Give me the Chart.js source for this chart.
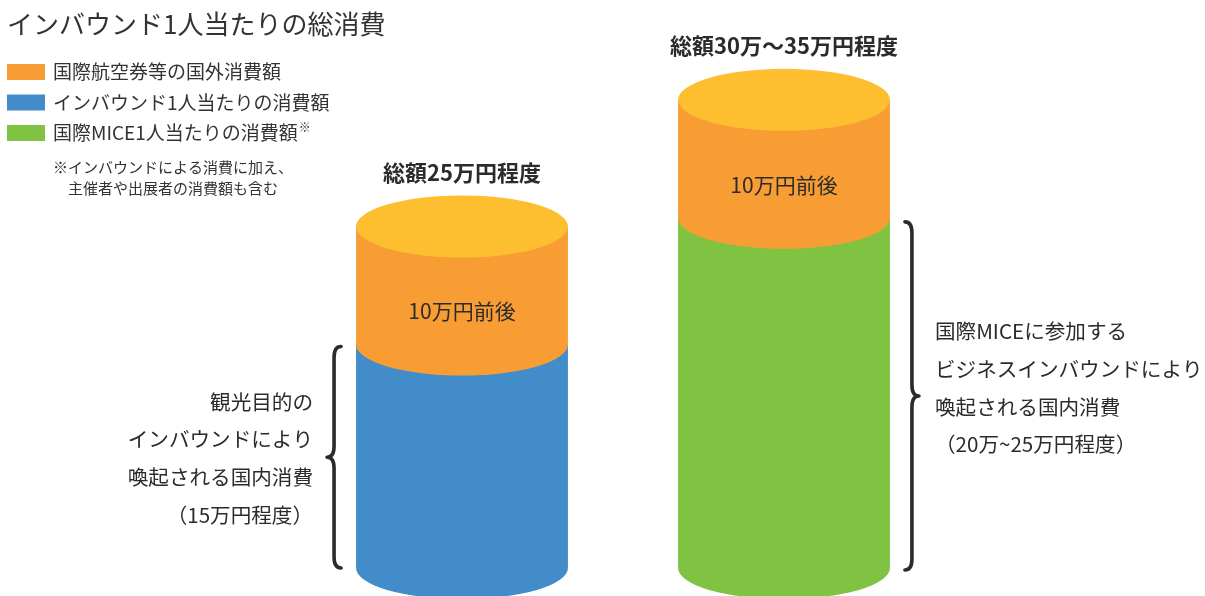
<!DOCTYPE html>
<html lang="ja">
<head>
<meta charset="utf-8">
<script src="https://cdn.jsdelivr.net/npm/chart.js@4"></script>
<style>
  html, body { margin: 0; padding: 0; background: #fff; }
  #wrap { width: 1205px; height: 596px; }
</style>
</head>
<body>
<div id="wrap"><canvas id="cylinders" width="1205" height="596"></canvas></div>
<script>
// 1人当たり消費（万円）
var categories = ['観光インバウンド', '国際MICE'];
var inboundSpend = [15, null];     // インバウンド1人当たりの消費額
var miceSpend = [null, 23.5];      // 国際MICE1人当たりの消費額
var overseasSpend = [10, 10];      // 国際航空券等の国外消費額

var totalLabels = ['総額25万円程度', '総額30万～35万円程度'];
var topLabels = ['10万円前後', '10万円前後'];
var noteLines = [
  ['観光目的の', 'インバウンドにより', '喚起される国内消費', '（15万円程度）'],
  ['国際MICEに参加する', 'ビジネスインバウンドにより', '喚起される国内消費', '（20万~25万円程度）']
];
var noteSide = ['left', 'right'];
var legendOrder = [2, 0, 1];
var legendFootnote = ['※インバウンドによる消費に加え、', '主催者や出展者の消費額も含む'];
var chartTitle = 'インバウンド1人当たりの総消費';

var COLORS = {
  orange: '#f79d34',
  blue: '#428cc9',
  green: '#80c242',
  cap: '#fdbf2f',
  ink: '#2b2b2b'
};
var FONT = '"Noto Sans CJK JP", "Noto Sans", sans-serif';
var RY = 31;

function drawBrace(ctx, x, y0, y1, dir) {
  var mid = (y0 + y1) / 2, c = 7, r = 11;
  ctx.save();
  ctx.strokeStyle = COLORS.ink;
  ctx.lineWidth = 3.6;
  ctx.lineCap = 'round';
  ctx.lineJoin = 'round';
  ctx.beginPath();
  ctx.moveTo(x - dir * c, y0);
  ctx.quadraticCurveTo(x, y0, x, y0 + r);
  ctx.lineTo(x, mid - r);
  ctx.quadraticCurveTo(x, mid, x + dir * c, mid);
  ctx.quadraticCurveTo(x, mid, x, mid + r);
  ctx.lineTo(x, y1 - r);
  ctx.quadraticCurveTo(x, y1, x - dir * c, y1);
  ctx.stroke();
  ctx.restore();
}

var cylinderPlugin = {
  id: 'cylinders',
  beforeDatasetsDraw: function(chart) {
    var ctx = chart.ctx;
    var metas = chart.getSortedVisibleDatasetMetas();

    categories.forEach(function(cat, i) {
      var segs = [];
      metas.forEach(function(meta) {
        var ds = chart.data.datasets[meta.index];
        if (ds.data[i] == null) return;
        segs.push({ el: meta.data[i], color: ds.backgroundColor });
      });
      if (!segs.length) return;

      var last = segs[segs.length - 1].el;
      var cx = last.x, rx = last.width / 2;
      var capY = last.y + RY;

      // side walls with a curved lower rim, bottom segment first
      segs.forEach(function(s, k) {
        var top = k === segs.length - 1 ? capY : s.el.y;
        ctx.fillStyle = s.color;
        ctx.beginPath();
        ctx.moveTo(cx - rx, top);
        ctx.lineTo(cx - rx, s.el.base);
        ctx.ellipse(cx, s.el.base, rx, RY, 0, Math.PI, 0, true);
        ctx.lineTo(cx + rx, top);
        ctx.closePath();
        ctx.fill();
      });

      // lid
      ctx.fillStyle = COLORS.cap;
      ctx.beginPath();
      ctx.ellipse(cx, capY, rx, RY, 0, 0, Math.PI * 2);
      ctx.fill();

      ctx.fillStyle = COLORS.ink;
      ctx.textAlign = 'center';
      ctx.textBaseline = 'middle';
      ctx.font = 'bold 22px ' + FONT;
      ctx.fillText(totalLabels[i], cx, last.y - 23);
      ctx.font = '21px ' + FONT;
      ctx.fillText(topLabels[i], cx, last.base - 33);

      // brace + note for the domestic part
      var low = segs[0].el;
      var mid = (low.y + 2 + low.base) / 2;
      var lines = noteLines[i];
      var lh = 37.7;
      var y0 = mid - lh * (lines.length - 1) / 2;
      ctx.font = '20.6px ' + FONT;
      if (noteSide[i] === 'left') {
        drawBrace(ctx, cx - rx - 22, low.y + 2, low.base, -1);
        ctx.textAlign = 'right';
        lines.forEach(function(t, n) { ctx.fillText(t, cx - rx - 43, y0 + 1 + n * lh); });
      } else {
        drawBrace(ctx, cx + rx + 22, low.y + 4, low.base + 2, 1);
        ctx.textAlign = 'left';
        lines.forEach(function(t, n) { ctx.fillText(t, cx + rx + 45, y0 - 6 + n * lh); });
      }
    });
    return false;
  },
  afterDraw: function(chart) {
    var ctx = chart.ctx;
    ctx.save();
    ctx.fillStyle = '#333';
    ctx.textAlign = 'left';
    ctx.textBaseline = 'middle';
    ctx.font = '26px ' + FONT;
    ctx.fillText(chartTitle, 7, 24);

    legendOrder.forEach(function(di, n) {
      var ds = chart.data.datasets[di];
      var y = 72 + n * 30.5;
      ctx.fillStyle = ds.backgroundColor;
      ctx.fillRect(7, y - 8, 38, 16);
      ctx.fillStyle = '#333';
      ctx.font = '19px ' + FONT;
      ctx.fillText(ds.label, 53, y);
      if (ds.footnote) {
        var w = ctx.measureText(ds.label).width;
        ctx.font = '12px ' + FONT;
        ctx.fillText('※', 53 + w + 1, y - 6);
      }
    });

    ctx.font = '15px ' + FONT;
    ctx.fillText(legendFootnote[0], 53, 167);
    ctx.fillText(legendFootnote[1], 68, 188);
    ctx.restore();
  }
};

new Chart(document.getElementById('cylinders'), {
  type: 'bar',
  data: {
    labels: categories,
    datasets: [
      { label: 'インバウンド1人当たりの消費額', data: inboundSpend, backgroundColor: COLORS.blue },
      { label: '国際MICE1人当たりの消費額', data: miceSpend, backgroundColor: COLORS.green, footnote: true },
      { label: '国際航空券等の国外消費額', data: overseasSpend, backgroundColor: COLORS.orange }
    ]
  },
  options: {
    responsive: false,
    animation: false,
    layout: { padding: { left: 301, right: 260, top: 31.6, bottom: 28 } },
    datasets: { bar: { categoryPercentage: 0.658, barPercentage: 1 } },
    plugins: {
      legend: { display: false },
      tooltip: { enabled: false },
      title: { display: false }
    },
    scales: {
      x: { stacked: true, display: false },
      y: { stacked: true, display: false, min: 0, max: 36 }
    }
  },
  plugins: [cylinderPlugin]
});
</script>
</body>
</html>
